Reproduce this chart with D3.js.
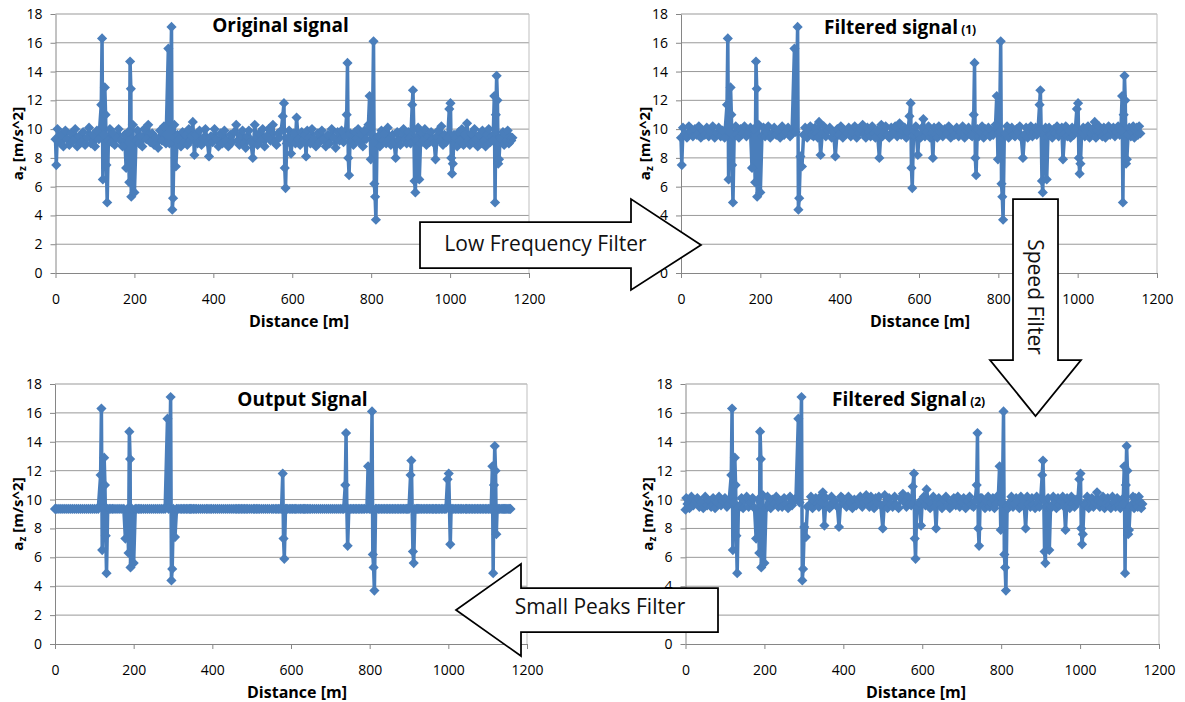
<!DOCTYPE html>
<html>
<head>
<meta charset="utf-8">
<script src="https://cdn.jsdelivr.net/npm/d3@7"></script>
<style>
  body { margin: 0; background: #fff; }
  svg { display: block; }
  text { font-family: "Open Sans", Lato, sans-serif; }
</style>
</head>
<body>
<svg id="chart" width="1185" height="702"></svg>
<script>
// distance along the road [m], shared by all four signals
const distance = [
  0, 2, 5, 10, 15, 20, 25, 30, 35, 40,
  45, 50, 55, 60, 65, 70, 75, 80, 85, 90,
  95, 100, 105, 110,
  116, 118, 120, 122, 125, 127, 129, 131, 134,
  138, 142, 146, 150, 155, 160, 165, 170, 175,
  179, 184, 187, 189, 191, 192, 196, 200, 204,
  208, 212, 216, 220, 225, 230, 235, 240,
  245, 250, 255, 260, 265, 270, 275, 280,
  286, 289, 294, 296, 298, 301, 305, 309,
  313, 318, 322, 326, 330, 334, 338, 342, 345, 348,
  352, 356, 360, 365, 370, 375, 380, 385, 389, 394,
  398, 403, 408, 413, 418, 423, 428, 433, 438, 443,
  448, 453, 458, 462, 466, 470, 474, 478, 482, 486,
  490, 495, 500, 505, 508, 512, 516, 520, 525, 530,
  535, 540, 545, 551, 555, 560, 564, 568, 572,
  576, 579, 581, 583, 586,
  589, 592, 597, 600, 604, 608, 611, 615, 620, 624,
  628, 632, 635, 638, 642, 646, 650, 655, 660, 665,
  670, 675, 680, 685, 690, 695, 700, 705, 710, 715,
  720, 725, 730, 734,
  738, 740, 742, 744, 747,
  751, 755, 759, 763, 767, 771, 775, 779, 783, 787,
  793, 796, 799, 803, 806, 808, 810, 812, 815,
  818, 822, 826, 830, 834, 838, 842, 846, 850, 854,
  858, 862, 866, 870, 874, 878, 882, 886, 890, 894,
  897, 900,
  904, 906, 908, 910, 912, 915, 919, 922, 925,
  928, 932, 936, 940, 944, 948, 952, 956, 960, 963,
  967, 970, 974, 978, 982, 986, 990, 994,
  998, 1001, 1003, 1005, 1007, 1010,
  1014, 1018, 1022, 1026, 1030, 1034, 1038, 1043, 1046, 1050,
  1054, 1058, 1062, 1066, 1070, 1074, 1078, 1082, 1086, 1090,
  1094, 1098, 1102, 1106, 1109,
  1112, 1114, 1116, 1118, 1120, 1122, 1124, 1127,
  1130, 1134, 1137, 1140, 1143, 1146, 1149, 1152, 1155, 1158
];

// a_z [m/s^2], one value per distance
const originalSignal = [
  9.3, 7.5, 10.0, 9.1, 9.6, 8.8, 9.9, 9.3, 8.9, 9.7,
  9.2, 10.0, 8.8, 9.5, 9.1, 9.8, 8.9, 9.4, 10.1, 9.0,
  9.6, 8.8, 9.9, 9.3,
  11.7, 16.3, 6.5, 9.6, 12.9, 11.0, 7.5, 4.9, 9.2,
  10.0, 9.1, 9.7, 8.9, 9.4, 10.0, 9.2, 8.8, 9.6,
  7.3, 9.8, 6.3, 14.7, 12.8, 5.3, 10.3, 5.6, 9.2,
  9.9, 9.0, 9.5, 8.8, 10.0, 9.3, 10.3, 9.1,
  9.7, 8.9, 9.4, 8.7, 9.9, 9.2, 10.2, 9.0,
  15.6, 9.0, 17.1, 4.4, 5.2, 10.3, 7.4, 9.6,
  9.3, 8.8, 9.8, 9.1, 9.6, 8.9, 10.0, 9.2, 9.5, 10.5,
  8.2, 9.6, 9.0, 9.9, 8.9, 9.4, 10.0, 9.1, 8.1, 9.5,
  9.1, 10.0, 9.3, 8.8, 9.7, 9.0, 9.9, 9.2, 8.8, 9.6,
  9.1, 9.8, 10.3, 9.2, 8.9, 9.6, 9.9, 9.0, 8.7, 9.5,
  9.9, 9.1, 8.0, 10.3, 9.4, 8.9, 9.7, 9.2, 10.0, 8.8,
  9.5, 10.0, 9.2, 10.3, 9.1, 8.9, 9.7, 9.4, 9.9,
  10.9, 11.8, 7.3, 5.9, 9.0,
  9.4, 9.9, 8.3, 9.2, 9.7, 9.0, 10.8, 9.3, 8.9, 9.8,
  9.2, 9.6, 8.1, 9.9, 9.4, 9.0, 10.0, 9.3, 8.8, 9.7,
  9.1, 9.9, 9.3, 8.8, 9.6, 9.0, 10.0, 9.4, 8.7, 9.8,
  9.2, 9.9, 9.1, 9.5,
  11.0, 14.6, 8.0, 6.8, 9.7,
  9.2, 8.9, 9.8, 9.4, 10.0, 9.1, 9.6, 8.8, 9.9, 9.3,
  10.3, 12.3, 7.9, 9.6, 16.1, 6.2, 5.3, 3.7, 9.4,
  9.5, 8.8, 9.9, 9.2, 9.7, 9.0, 10.1, 9.3, 8.9, 9.6,
  9.1, 8.0, 9.8, 9.2, 8.9, 9.7, 10.0, 9.3, 9.0, 9.8,
  9.4, 9.0,
  11.7, 12.7, 10.0, 6.4, 5.6, 9.2, 10.1, 6.5, 9.0,
  9.7, 9.2, 10.0, 8.9, 9.5, 9.1, 9.8, 9.3, 9.0, 7.9,
  9.5, 9.9, 9.2, 10.2, 8.9, 9.6, 9.1, 9.4,
  11.4, 11.8, 8.0, 6.9, 7.6, 9.6,
  9.4, 8.8, 9.8, 9.2, 10.0, 8.9, 9.6, 10.4, 9.2, 8.9,
  9.7, 9.1, 10.0, 9.3, 8.8, 9.6, 9.0, 9.9, 9.2, 8.8,
  9.6, 10.0, 9.1, 9.5, 9.2,
  12.3, 4.9, 11.0, 13.7, 12.0, 7.6, 7.9, 9.4,
  9.3, 9.8, 8.9, 9.6, 9.2, 9.9, 9.0, 9.5, 9.2, 9.4
];

const filteredSignal1 = [
  9.4, 7.5, 10.1, 9.7, 9.4, 10.2, 9.8, 9.5, 10.0, 9.6,
  10.2, 9.4, 9.9, 9.6, 10.1, 9.5, 9.8, 10.2, 9.4, 9.7,
  10.1, 9.5, 9.9, 9.4,
  11.7, 16.3, 6.5, 9.8, 12.9, 11.0, 7.5, 4.9, 9.5,
  10.2, 9.6, 9.4, 10.0, 9.7, 10.2, 9.5, 9.8, 10.1,
  7.3, 10.0, 6.3, 14.7, 12.8, 5.3, 10.3, 5.6, 9.5,
  10.1, 9.5, 9.8, 10.2, 9.4, 9.7, 10.1, 9.6,
  9.9, 9.4, 10.2, 9.6, 9.8, 10.1, 9.5, 9.7,
  15.6, 9.8, 17.1, 4.4, 5.2, 8.1, 7.4, 9.6,
  10.1, 9.4, 9.8, 10.2, 9.6, 9.5, 10.1, 9.7, 9.4, 10.5,
  8.2, 9.7, 10.2, 9.5, 9.9, 10.1, 9.4, 9.8, 8.1, 10.0,
  9.6, 10.2, 9.4, 9.9, 9.7, 10.1, 9.5, 9.8, 10.2, 9.4,
  9.7, 10.0, 10.3, 9.6, 9.4, 10.1, 9.8, 9.5, 10.2, 9.7,
  9.4, 9.9, 8.0, 10.3, 9.5, 9.8, 10.2, 9.6, 9.4, 10.1,
  9.7, 10.2, 9.5, 10.4, 9.6, 9.9, 10.1, 9.4, 9.8,
  10.9, 11.8, 7.3, 5.9, 9.6,
  9.9, 10.2, 8.2, 9.6, 9.4, 10.1, 10.7, 9.5, 9.8, 10.2,
  9.4, 9.7, 8.0, 10.1, 9.6, 9.4, 10.2, 9.8, 9.5, 10.0,
  9.7, 10.2, 9.4, 9.9, 9.6, 10.1, 9.5, 9.8, 10.2, 9.4,
  9.9, 10.1, 9.6, 9.5,
  11.0, 14.6, 8.0, 6.8, 10.0,
  9.5, 9.8, 10.2, 9.4, 10.0, 9.7, 10.1, 9.5, 9.9, 9.6,
  10.3, 12.3, 7.9, 9.8, 16.1, 6.2, 5.3, 3.7, 9.6,
  9.7, 10.2, 9.4, 9.9, 10.1, 9.6, 9.5, 10.0, 9.8, 10.2,
  9.4, 8.0, 9.6, 10.1, 9.4, 9.9, 10.2, 9.5, 9.8, 10.1,
  9.6, 9.9,
  11.7, 12.7, 10.0, 6.4, 5.6, 9.6, 10.1, 6.5, 9.5,
  10.1, 9.6, 9.4, 10.0, 9.7, 10.2, 9.5, 9.8, 10.1, 7.9,
  9.7, 10.2, 9.5, 9.9, 9.4, 10.1, 9.6, 9.9,
  11.4, 11.8, 8.0, 6.9, 7.6, 9.8,
  10.1, 9.5, 9.8, 10.2, 9.4, 9.7, 10.0, 10.5, 9.4, 9.9,
  10.2, 9.7, 9.5, 10.1, 9.4, 9.8, 10.2, 9.6, 9.9, 10.1,
  9.5, 9.8, 10.2, 9.6, 9.9,
  12.3, 4.9, 11.0, 13.7, 12.0, 7.6, 7.9, 9.6,
  10.1, 9.5, 9.8, 10.2, 9.4, 9.9, 10.1, 9.6, 10.2, 9.7
];

const filteredSignal2 = [
  9.3, 10.1, 9.7, 9.4, 10.2, 9.6, 9.9, 10.1, 9.5, 9.8,
  9.4, 10.2, 9.6, 9.9, 9.5, 10.1, 9.4, 9.8, 10.2, 9.6,
  9.9, 10.1, 9.5, 9.7,
  11.7, 16.3, 6.5, 9.8, 12.9, 11.0, 7.5, 4.9, 9.4,
  9.6, 10.1, 9.4, 9.9, 10.2, 9.5, 9.8, 10.1, 9.4,
  7.3, 10.0, 6.3, 14.7, 12.8, 5.3, 10.3, 5.6, 9.4,
  10.2, 9.6, 9.4, 10.0, 9.7, 10.2, 9.5, 9.8,
  9.5, 10.1, 9.7, 9.4, 10.2, 9.6, 9.9, 10.1,
  15.6, 9.8, 17.1, 4.4, 5.2, 8.1, 7.4, 9.5,
  9.6, 10.2, 9.4, 9.9, 10.1, 9.7, 9.5, 10.2, 9.8, 10.5,
  8.2, 10.1, 9.6, 9.4, 10.2, 9.7, 9.9, 9.5, 8.1, 10.2,
  10.1, 9.7, 9.5, 10.2, 9.8, 9.4, 10.0, 9.6, 9.9, 10.2,
  9.5, 9.8, 10.3, 9.9, 9.5, 10.2, 9.6, 9.4, 10.1, 9.8,
  10.2, 9.6, 8.0, 10.3, 9.8, 9.4, 10.1, 9.7, 9.5, 10.2,
  9.6, 9.4, 10.1, 10.4, 9.8, 9.5, 10.2, 9.7, 9.6,
  10.9, 11.8, 7.3, 5.9, 9.5,
  9.5, 9.8, 8.2, 10.0, 10.2, 9.6, 10.7, 9.9, 9.4, 9.7,
  10.2, 9.5, 8.0, 9.8, 10.1, 9.7, 9.4, 10.0, 10.2, 9.6,
  9.4, 9.9, 10.1, 9.6, 10.2, 9.5, 9.8, 10.1, 9.4, 9.9,
  10.2, 9.6, 9.5, 9.9,
  11.0, 14.6, 8.0, 6.8, 10.1,
  10.1, 9.6, 9.4, 9.9, 10.2, 9.5, 9.8, 10.1, 9.4, 9.7,
  10.3, 12.3, 7.9, 9.8, 16.1, 6.2, 5.3, 3.7, 9.5,
  9.4, 9.8, 10.2, 9.5, 9.7, 10.1, 9.9, 9.4, 10.2, 9.6,
  9.9, 8.0, 10.2, 9.7, 9.5, 10.1, 9.6, 9.4, 10.2, 9.8,
  9.5, 10.0,
  11.7, 12.7, 10.0, 6.4, 5.6, 9.5, 10.1, 6.5, 9.4,
  9.5, 10.2, 9.8, 9.4, 10.1, 9.6, 9.9, 10.2, 9.5, 7.9,
  10.1, 9.6, 9.4, 10.2, 9.7, 9.5, 10.0, 9.8,
  11.4, 11.8, 8.0, 6.9, 7.6, 9.7,
  9.6, 10.2, 9.4, 9.9, 10.1, 9.5, 9.8, 10.5, 9.9, 9.5,
  9.8, 10.2, 9.4, 9.7, 10.1, 9.6, 9.4, 10.2, 9.8, 9.5,
  10.1, 9.6, 9.4, 10.0, 9.7,
  12.3, 4.9, 11.0, 13.7, 12.0, 7.6, 7.9, 9.5,
  9.6, 10.2, 9.4, 10.1, 9.7, 9.5, 10.2, 9.8, 9.4, 9.7
];

const outputSignal = [
  9.35, 9.35, 9.35, 9.35, 9.35, 9.35, 9.35, 9.35, 9.35, 9.35,
  9.35, 9.35, 9.35, 9.35, 9.35, 9.35, 9.35, 9.35, 9.35, 9.35,
  9.35, 9.35, 9.35, 9.35,
  11.7, 16.3, 6.5, 9.35, 12.9, 11.0, 7.5, 4.9, 9.35,
  9.35, 9.35, 9.35, 9.35, 9.35, 9.35, 9.35, 9.35, 9.35,
  7.3, 9.35, 6.3, 14.7, 12.8, 5.3, 9.35, 5.6, 9.35,
  9.35, 9.35, 9.35, 9.35, 9.35, 9.35, 9.35, 9.35,
  9.35, 9.35, 9.35, 9.35, 9.35, 9.35, 9.35, 9.35,
  15.6, 9.35, 17.1, 4.4, 5.2, 9.35, 7.4, 9.35,
  9.35, 9.35, 9.35, 9.35, 9.35, 9.35, 9.35, 9.35, 9.35, 9.35,
  9.35, 9.35, 9.35, 9.35, 9.35, 9.35, 9.35, 9.35, 9.35, 9.35,
  9.35, 9.35, 9.35, 9.35, 9.35, 9.35, 9.35, 9.35, 9.35, 9.35,
  9.35, 9.35, 9.35, 9.35, 9.35, 9.35, 9.35, 9.35, 9.35, 9.35,
  9.35, 9.35, 9.35, 9.35, 9.35, 9.35, 9.35, 9.35, 9.35, 9.35,
  9.35, 9.35, 9.35, 9.35, 9.35, 9.35, 9.35, 9.35, 9.35,
  9.35, 11.8, 7.3, 5.9, 9.35,
  9.35, 9.35, 9.35, 9.35, 9.35, 9.35, 9.35, 9.35, 9.35, 9.35,
  9.35, 9.35, 9.35, 9.35, 9.35, 9.35, 9.35, 9.35, 9.35, 9.35,
  9.35, 9.35, 9.35, 9.35, 9.35, 9.35, 9.35, 9.35, 9.35, 9.35,
  9.35, 9.35, 9.35, 9.35,
  11.0, 14.6, 9.35, 6.8, 9.35,
  9.35, 9.35, 9.35, 9.35, 9.35, 9.35, 9.35, 9.35, 9.35, 9.35,
  9.35, 12.3, 9.35, 9.35, 16.1, 6.2, 5.3, 3.7, 9.35,
  9.35, 9.35, 9.35, 9.35, 9.35, 9.35, 9.35, 9.35, 9.35, 9.35,
  9.35, 9.35, 9.35, 9.35, 9.35, 9.35, 9.35, 9.35, 9.35, 9.35,
  9.35, 9.35,
  11.7, 12.7, 9.35, 6.4, 5.6, 9.35, 9.35, 9.35, 9.35,
  9.35, 9.35, 9.35, 9.35, 9.35, 9.35, 9.35, 9.35, 9.35, 9.35,
  9.35, 9.35, 9.35, 9.35, 9.35, 9.35, 9.35, 9.35,
  11.4, 11.8, 9.35, 6.9, 9.35, 9.35,
  9.35, 9.35, 9.35, 9.35, 9.35, 9.35, 9.35, 9.35, 9.35, 9.35,
  9.35, 9.35, 9.35, 9.35, 9.35, 9.35, 9.35, 9.35, 9.35, 9.35,
  9.35, 9.35, 9.35, 9.35, 9.35,
  12.3, 4.9, 11.0, 13.7, 12.0, 7.6, 9.35, 9.35,
  9.35, 9.35, 9.35, 9.35, 9.35, 9.35, 9.35, 9.35, 9.35, 9.35
];

const yTicks = [0, 2, 4, 6, 8, 10, 12, 14, 16, 18];
const xTicks = [0, 200, 400, 600, 800, 1000, 1200];

const blue = '#4a7ebb';
const svg = d3.select('#chart');

const drawPanel = ({ name, values, left, right, top, bottom, title, note, titleX, titleY, titleAnchor, labelX, yLabelX }) => {

  const scaleX = d3.scaleLinear().domain([0, 1200]).range([left, right]);
  const scaleY = d3.scaleLinear().domain([0, 18]).range([bottom, top]);

  const group = svg.append('g').attr('class', `panel-${name}`);

  // horizontal gridlines
  group.append('g')
    .selectAll('line')
    .data(yTicks.filter(t => t > 0))
    .enter()
    .append('line')
    .attr('x1', left)
    .attr('x2', right)
    .attr('y1', d => scaleY(d))
    .attr('y2', d => scaleY(d))
    .attr('stroke', '#999')
    .attr('stroke-width', 1);

  group.append('line')
    .attr('x1', right).attr('x2', right)
    .attr('y1', top).attr('y2', bottom)
    .attr('stroke', '#bfbfbf');

  const axisY = d3.axisLeft(scaleY).tickValues(yTicks).tickSize(5).tickSizeOuter(0).tickPadding(8);
  const axisX = d3.axisBottom(scaleX).tickValues(xTicks).tickFormat(d3.format('d'))
    .tickSize(5).tickSizeOuter(0).tickPadding(16);

  const groupAxisY = group.append('g')
    .attr('transform', `translate(${left}, 0)`)
    .call(axisY);
  const groupAxisX = group.append('g')
    .attr('transform', `translate(0, ${bottom})`)
    .call(axisX);

  [groupAxisX, groupAxisY].forEach(axis => {
    axis.select('.domain').attr('stroke', '#868686');
    axis.selectAll('.tick line').attr('stroke', '#868686');
    axis.selectAll('.tick text')
      .attr('fill', '#000')
      .style('font-size', '14px')
      .style('font-family', '"Open Sans", sans-serif');
  });

  // the series
  const points = distance.map((d, i) => [d, values[i]]);
  const line = d3.line()
    .x(d => scaleX(d[0]))
    .y(d => scaleY(d[1]));

  group.append('path')
    .attr('d', line(points))
    .attr('fill', 'none')
    .attr('stroke', blue)
    .attr('stroke-width', 3.5)
    .attr('stroke-linejoin', 'round');

  const diamond = d3.symbol(d3.symbolSquare, 52);
  group.append('g')
    .selectAll('path')
    .data(points)
    .enter()
    .append('path')
    .attr('d', diamond)
    .attr('transform', d => `translate(${scaleX(d[0])}, ${scaleY(d[1])}) rotate(45)`)
    .attr('fill', blue);

  // titles
  const titleText = group.append('text')
    .attr('x', titleX)
    .attr('y', titleY)
    .attr('text-anchor', titleAnchor)
    .style('font-size', '19px')
    .style('font-weight', 700)
    .text(title);
  if (note) {
    titleText.append('tspan')
      .style('font-size', '12px')
      .text(` ${note}`);
  }

  group.append('text')
    .attr('x', labelX)
    .attr('y', bottom + 54)
    .attr('text-anchor', 'middle')
    .style('font-size', '16px')
    .style('font-weight', 700)
    .text('Distance [m]');

  const yLabel = group.append('text')
    .attr('transform', `translate(${yLabelX}, ${(top + bottom) / 2}) rotate(-90)`)
    .attr('text-anchor', 'middle')
    .style('font-size', '15px')
    .style('font-weight', 700);
  yLabel.append('tspan').text('a');
  yLabel.append('tspan').attr('dy', 3).style('font-size', '10px').text('z');
  yLabel.append('tspan').attr('dy', -3).text(' [m/s^2]');
};

drawPanel({
  name: 'original', values: originalSignal,
  left: 55.5, right: 529, top: 14, bottom: 273,
  title: 'Original signal', titleX: 280.5, titleY: 32, titleAnchor: 'middle',
  labelX: 299, yLabelX: 23
});

drawPanel({
  name: 'filtered-1', values: filteredSignal1,
  left: 681, right: 1157, top: 14, bottom: 273,
  title: 'Filtered signal', note: '(1)', titleX: 824, titleY: 34, titleAnchor: 'start',
  labelX: 920, yLabelX: 650
});

drawPanel({
  name: 'output', values: outputSignal,
  left: 55, right: 527, top: 384, bottom: 644,
  title: 'Output Signal', titleX: 302.5, titleY: 405.5, titleAnchor: 'middle',
  labelX: 297, yLabelX: 23
});

drawPanel({
  name: 'filtered-2', values: filteredSignal2,
  left: 685.5, right: 1159, top: 384, bottom: 644,
  title: 'Filtered Signal', note: '(2)', titleX: 832, titleY: 405.5, titleAnchor: 'start',
  labelX: 916, yLabelX: 653
});

// block arrows between the panels
const arrows = [
  {
    label: 'Low Frequency Filter', textX: 545.5, textY: 251, rotate: 0,
    shape: [[420, 222], [631, 222], [631, 199], [701, 245], [631, 290], [631, 268], [420, 268]]
  },
  {
    label: 'Speed Filter', textX: 1028, textY: 297, rotate: 90,
    shape: [[1013, 199], [1058, 199], [1058, 360], [1081, 360], [1035.5, 416], [990, 360], [1013, 360]]
  },
  {
    label: 'Small Peaks Filter', textX: 600, textY: 614, rotate: 0,
    shape: [[718, 588], [521, 588], [521, 564], [456, 610], [521, 656], [521, 632], [718, 632]]
  }
];

const arrowLine = d3.line().curve(d3.curveLinearClosed);

arrows.forEach(arrow => {
  svg.append('path')
    .attr('d', arrowLine(arrow.shape))
    .attr('fill', '#fff')
    .attr('stroke', '#000')
    .attr('stroke-width', 1.75)
    .attr('stroke-linejoin', 'miter');

  svg.append('text')
    .attr('transform', `translate(${arrow.textX}, ${arrow.textY}) rotate(${arrow.rotate})`)
    .attr('text-anchor', 'middle')
    .attr('fill', '#111')
    .style('font-size', '21px')
    .text(arrow.label);
});
</script>
</body>
</html>
